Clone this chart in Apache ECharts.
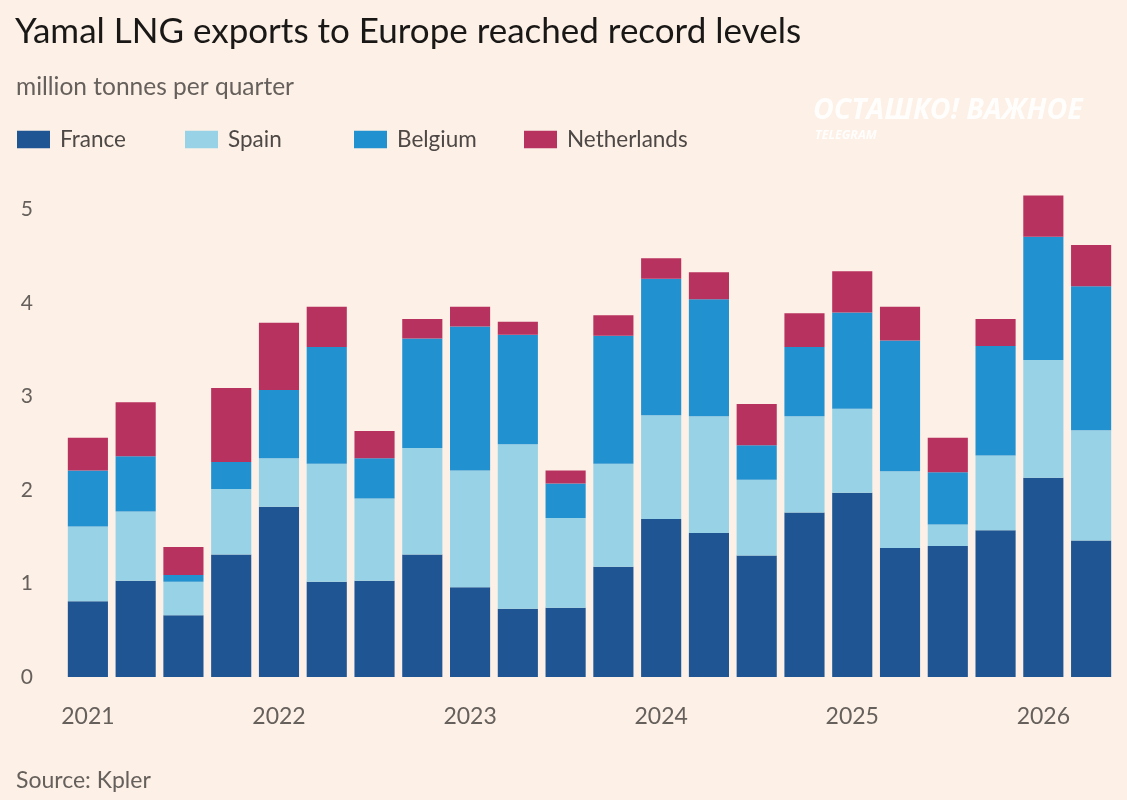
<!DOCTYPE html>
<html>
<head>
<meta charset="utf-8">
<script src="https://cdn.jsdelivr.net/npm/echarts@6/dist/echarts.min.js"></script>
<style>
  html, body { margin: 0; padding: 0; background: #fdf0e6; }
  #chart { width: 1127px; height: 800px; }
</style>
</head>
<body>
<div id="chart"></div>
<script>
const quarters = [
  '2021 Q1','2021 Q2','2021 Q3','2021 Q4',
  '2022 Q1','2022 Q2','2022 Q3','2022 Q4',
  '2023 Q1','2023 Q2','2023 Q3','2023 Q4',
  '2024 Q1','2024 Q2','2024 Q3','2024 Q4',
  '2025 Q1','2025 Q2','2025 Q3','2025 Q4',
  '2026 Q1','2026 Q2'
];
const france      = [0.81,1.03,0.66,1.31,1.82,1.02,1.03,1.31,0.96,0.73,0.74,1.18,1.69,1.54,1.30,1.76,1.97,1.38,1.40,1.57,2.13,1.46];
const spain       = [0.80,0.74,0.36,0.70,0.52,1.26,0.88,1.14,1.25,1.76,0.96,1.10,1.11,1.25,0.81,1.03,0.90,0.82,0.23,0.80,1.26,1.18];
const belgium     = [0.60,0.59,0.07,0.29,0.73,1.25,0.43,1.17,1.54,1.17,0.37,1.37,1.46,1.25,0.37,0.74,1.03,1.40,0.56,1.17,1.32,1.54];
const netherlands = [0.35,0.58,0.30,0.79,0.72,0.43,0.29,0.21,0.21,0.14,0.14,0.22,0.22,0.29,0.44,0.36,0.44,0.36,0.37,0.29,0.44,0.44];
const yTicks = [0, 1, 2, 3, 4, 5];
const seriesNames = ['France', 'Spain', 'Belgium', 'Netherlands'];

const FONT = 'Lato, "Noto Sans", sans-serif';
const chart = echarts.init(document.getElementById('chart'));

function bar(name, data, color) {
  return {
    name, type: 'bar', stack: 'total', data,
    itemStyle: { color },
    barCategoryGap: '16%',
    emphasis: { disabled: true }
  };
}

const legendLefts = [12, 180, 349, 519];
const legends = seriesNames.map((n, i) => ({
  left: legendLefts[i], top: 123, icon: 'rect', itemWidth: 33, itemHeight: 17.5, itemGap: 0,
  selectedMode: false,
  textStyle: { fontFamily: FONT, fontSize: 22.5, color: '#4d4845', padding: [0, 0, 0, 5] },
  data: [n]
}));

chart.setOption({
  backgroundColor: '#fdf0e6',
  animation: false,
  textStyle: { fontFamily: FONT },
  title: [
    { text: 'Yamal LNG exports to Europe reached record levels', left: 10, top: 9.5,
      textStyle: { fontFamily: FONT, fontSize: 35, fontWeight: 'normal', color: '#1a1817' } },
    { text: 'million tonnes per quarter', left: 11, top: 70,
      textStyle: { fontFamily: FONT, fontSize: 24.5, fontWeight: 'normal', color: '#66605c' } },
    { text: 'Source: Kpler', left: 11, top: 764,
      textStyle: { fontFamily: FONT, fontSize: 23, fontWeight: 'normal', color: '#66605c' } }
  ],
  legend: legends,
  grid: { left: 64, right: 12, top: 181.5, bottom: 123, containLabel: false },
  xAxis: {
    type: 'category', data: quarters,
    axisLine: { show: false }, axisTick: { show: false },
    axisLabel: { interval: 3, margin: 28, fontFamily: FONT, fontSize: 23, color: '#66605c',
      formatter: v => v.slice(0, 4) }
  },
  yAxis: {
    type: 'value', min: 0, max: 5.3, interval: 1,
    splitLine: { show: false }, axisLine: { show: false }, axisTick: { show: false },
    axisLabel: { margin: 31, fontFamily: FONT, fontSize: 21, color: '#66605c',
      formatter: v => yTicks.includes(v) ? String(v) : '' }
  },
  graphic: [
    { type: 'text', left: 813, top: 96, silent: true,
      style: { text: 'ОСТАШКО! ВАЖНОЕ', fill: 'rgba(255,255,255,0.9)', font: 'italic bold 28.5px "Open Sans", sans-serif',
        shadowColor: 'rgba(120,100,90,0.35)', shadowBlur: 8 } },
    { type: 'text', left: 815, top: 129, silent: true,
      style: { text: 'TELEGRAM', fill: 'rgba(255,255,255,0.9)', font: 'italic bold 12.5px "Open Sans", sans-serif',
        shadowColor: 'rgba(120,100,90,0.35)', shadowBlur: 6 } }
  ],
  series: [
    bar('France', france, '#1f5592'),
    bar('Spain', spain, '#97d2e6'),
    bar('Belgium', belgium, '#2291d0'),
    bar('Netherlands', netherlands, '#b8325f')
  ]
});
</script>
</body>
</html>
